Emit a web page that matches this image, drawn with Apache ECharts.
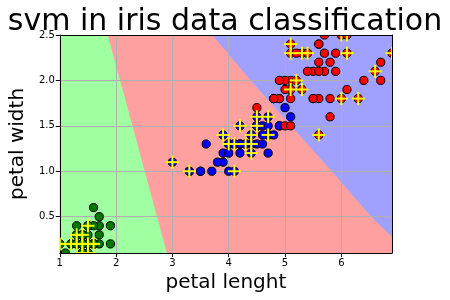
<!DOCTYPE html>
<html><head><meta charset="utf-8">
<script src="https://cdn.jsdelivr.net/npm/echarts@6/dist/echarts.min.js"></script>
<style>html,body{margin:0;padding:0;background:#fff}#c{width:450px;height:300px}</style>
</head><body><div id="c"></div><script>
const titleText = 'svm in iris data classification';
const xName = 'petal lenght';
const yName = 'petal width';
const xTicks = [1, 2, 3, 4, 5, 6];
const yTicks = [0.5, 1.0, 1.5, 2.0, 2.5];
const xRange = [1.0, 6.9];
const yRange = [0.1, 2.5];

// decision regions
const redRegion = [[1.0, 0.1], [6.9, 0.1], [6.9, 2.5], [1.0, 2.5]];
const greenRegion = [[1.0, 2.5], [1.85, 2.5], [2.29, 1.5], [2.90, 0.1], [1.0, 0.1]];
const blueRegion = [[3.71, 2.5], [6.9, 2.5], [6.9, 0.28], [6.53, 0.5], [5.83, 1.0], [4.39, 2.0]];

// iris petal length / width
const setosa = [[1.4,0.2],[1.4,0.2],[1.3,0.2],[1.5,0.2],[1.4,0.2],[1.7,0.4],[1.4,0.3],[1.5,0.2],[1.4,0.2],[1.5,0.1],
[1.5,0.2],[1.6,0.2],[1.4,0.1],[1.1,0.1],[1.2,0.2],[1.5,0.4],[1.3,0.4],[1.4,0.3],[1.7,0.3],[1.5,0.3],
[1.7,0.2],[1.5,0.4],[1.0,0.2],[1.7,0.5],[1.9,0.2],[1.6,0.2],[1.6,0.4],[1.5,0.2],[1.4,0.2],[1.6,0.2],
[1.6,0.2],[1.5,0.4],[1.5,0.1],[1.4,0.2],[1.5,0.2],[1.2,0.2],[1.3,0.2],[1.4,0.1],[1.3,0.2],[1.5,0.2],
[1.3,0.3],[1.3,0.3],[1.3,0.2],[1.6,0.6],[1.9,0.4],[1.4,0.3],[1.6,0.2],[1.4,0.2],[1.5,0.2],[1.4,0.2]];
const versicolor = [[4.7,1.4],[4.5,1.5],[4.9,1.5],[4.0,1.3],[4.6,1.5],[4.5,1.3],[4.7,1.6],[3.3,1.0],[4.6,1.3],[3.9,1.4],
[3.5,1.0],[4.2,1.5],[4.0,1.0],[4.7,1.4],[3.6,1.3],[4.4,1.4],[4.5,1.5],[4.1,1.0],[4.5,1.5],[3.9,1.1],
[4.8,1.8],[4.0,1.3],[4.9,1.5],[4.7,1.2],[4.3,1.3],[4.4,1.4],[4.8,1.4],[5.0,1.7],[4.5,1.5],[3.5,1.0],
[3.8,1.1],[3.7,1.0],[3.9,1.2],[5.1,1.6],[4.5,1.5],[4.5,1.6],[4.7,1.5],[4.4,1.3],[4.1,1.3],[4.0,1.3],
[4.4,1.2],[4.6,1.4],[4.0,1.2],[3.3,1.0],[4.2,1.3],[4.2,1.2],[4.2,1.3],[4.3,1.3],[3.0,1.1],[4.1,1.3]];
const virginica = [[6.0,2.5],[5.1,1.9],[5.9,2.1],[5.6,1.8],[5.8,2.2],[6.6,2.1],[4.5,1.7],[6.3,1.8],[5.8,1.8],[6.1,2.5],
[5.1,2.0],[5.3,1.9],[5.5,2.1],[5.0,2.0],[5.1,2.4],[5.3,2.3],[5.5,1.8],[6.7,2.2],[6.9,2.3],[5.0,1.5],
[5.7,2.3],[4.9,2.0],[6.7,2.0],[4.9,1.8],[5.7,2.1],[6.0,1.8],[4.8,1.8],[4.9,1.8],[5.6,2.1],[5.8,1.6],
[6.1,1.9],[6.4,2.0],[5.6,2.2],[5.1,1.5],[5.6,1.4],[6.1,2.3],[5.6,2.4],[5.5,1.8],[4.8,1.8],[5.4,2.1],
[5.6,2.4],[5.1,2.3],[5.1,1.9],[5.9,2.3],[5.7,2.5],[5.2,2.3],[5.0,1.9],[5.2,2.0],[5.4,2.3],[5.1,1.8]];

// support vectors
const supportVectors = [
[1.0,0.2],[1.2,0.2],[1.3,0.2],[1.3,0.3],[1.4,0.2],[1.4,0.3],[1.5,0.2],[1.6,0.2],[1.5,0.4],[1.5,0.1],[1.4,0.1],
[3.0,1.1],[3.3,1.0],[3.9,1.4],[4.0,1.3],[4.1,1.3],[4.1,1.0],[4.2,1.5],[4.3,1.3],[4.4,1.4],[4.4,1.3],[4.4,1.2],
[4.5,1.5],[4.5,1.6],[4.7,1.6],[4.7,1.4],
[5.1,2.4],[5.1,2.3],[5.3,2.3],[5.4,2.3],[5.2,2.0],[5.1,1.9],[5.3,1.9],[6.0,2.5],[6.1,2.5],[6.1,2.3],[6.9,2.3],
[6.6,2.1],[6.0,1.8],[6.3,1.8],[5.6,1.4]];

const FONT = 'DejaVu Sans';

function polySeries(arr, color) {
  return {
    type: 'custom', z: 0, clip: true, silent: true,
    data: arr,
    renderItem: function (params, api) {
      if (params.dataIndex !== 0) return null;
      const pts = arr.map(p => api.coord(p));
      return { type: 'polygon', shape: { points: pts }, style: { fill: color } };
    }
  };
}
function pointSeries(arr, color) {
  return {
    type: 'custom', z: 2, clip: true,
    data: arr,
    renderItem: function (params, api) {
      const c = api.coord([api.value(0), api.value(1)]);
      return { type: 'circle', shape: { cx: c[0], cy: c[1], r: 4.1 },
        style: { fill: color, stroke: '#000', lineWidth: 1 } };
    }
  };
}
const crossSeries = {
  type: 'custom', z: 3, clip: true,
  data: supportVectors,
  renderItem: function (params, api) {
    const c = api.coord([api.value(0), api.value(1)]);
    const h = 6.5;
    return { type: 'group', children: [
      { type: 'line', shape: { x1: c[0] - h, y1: c[1], x2: c[0] + h, y2: c[1] }, style: { stroke: '#ffff00', lineWidth: 2 } },
      { type: 'line', shape: { x1: c[0], y1: c[1] - h, x2: c[0], y2: c[1] + h }, style: { stroke: '#ffff00', lineWidth: 2 } }
    ] };
  }
};

const chart = echarts.init(document.getElementById('c'), null, { renderer: 'canvas' });
chart.setOption({
  animation: false,
  backgroundColor: '#fff',
  title: { text: titleText, left: 'center', top: 2,
    textStyle: { fontFamily: FONT, fontSize: 30, fontWeight: 'normal', color: '#000' } },
  grid: { left: 58, right: 58, top: 35, bottom: 47 },
  xAxis: [{
    type: 'value', min: xRange[0], max: xRange[1], position: 'bottom', z: 1,
    name: xName, nameLocation: 'middle', nameGap: 20,
    nameTextStyle: { fontFamily: FONT, fontSize: 20, color: '#000' },
    axisLine: { show: true, lineStyle: { color: '#000', width: 1 } },
    axisTick: { show: true, length: 4, customValues: xTicks, lineStyle: { color: '#000' } },
    axisLabel: { customValues: xTicks, fontFamily: FONT, fontSize: 10, color: '#000', margin: 5 },
    splitLine: { show: true, lineStyle: { color: '#b0b0b0', width: 1 } }
  }, {
    type: 'value', min: xRange[0], max: xRange[1], position: 'top', z: 5,
    axisLine: { show: true, lineStyle: { color: '#000', width: 1 } },
    axisTick: { show: false }, axisLabel: { show: false }, splitLine: { show: false }
  }],
  yAxis: [{
    type: 'value', min: yRange[0], max: yRange[1], position: 'left', z: 1,
    name: yName, nameLocation: 'middle', nameGap: 27,
    nameTextStyle: { fontFamily: FONT, fontSize: 20, color: '#000' },
    axisLine: { show: true, lineStyle: { color: '#000', width: 1 } },
    axisTick: { show: true, length: 4, customValues: yTicks, lineStyle: { color: '#000' } },
    axisLabel: { customValues: yTicks, fontFamily: FONT, fontSize: 10, color: '#000', margin: 5,
      formatter: v => v.toFixed(1) },
    splitLine: { show: true, lineStyle: { color: '#b0b0b0', width: 1 } }
  }, {
    type: 'value', min: yRange[0], max: yRange[1], position: 'right', z: 5,
    axisLine: { show: true, lineStyle: { color: '#000', width: 1 } },
    axisTick: { show: false }, axisLabel: { show: false }, splitLine: { show: false }
  }],
  series: [
    polySeries(redRegion, '#ffa0a0'),
    polySeries(greenRegion, '#a0ffa0'),
    polySeries(blueRegion, '#a0a0ff'),
    pointSeries(setosa, '#007800'),
    pointSeries(versicolor, '#0000ff'),
    pointSeries(virginica, '#ff0000'),
    crossSeries
  ]
});
</script></body></html>
